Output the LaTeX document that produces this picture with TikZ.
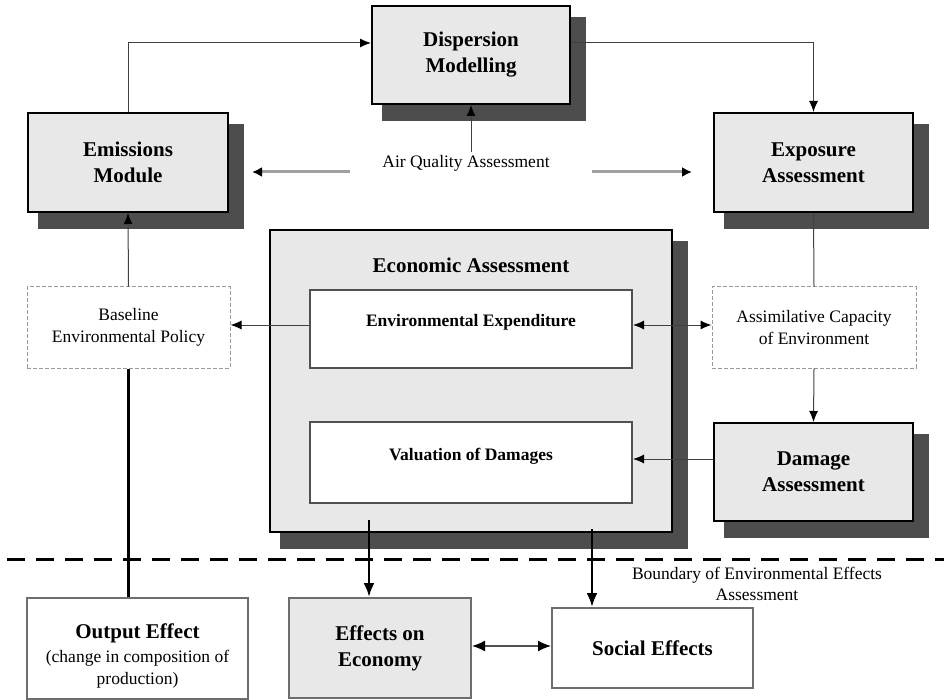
\documentclass[tikz,border=0pt]{standalone}
\usepackage{fontspec}
\setmainfont{Liberation Serif}
\usetikzlibrary{arrows.meta,calc}
\pgfdeclarelayer{background}
\pgfsetlayers{background,main}
\definecolor{boxfill}{HTML}{E8E8E8}
\definecolor{shadowc}{HTML}{4D4D4D}
\definecolor{dashc}{HTML}{9A9A9A}
\definecolor{midgray}{HTML}{6E6E6E}
\definecolor{innerc}{HTML}{505050}
\definecolor{linec}{HTML}{404040}
\definecolor{aqc}{HTML}{A0A0A0}
\begin{document}
\begin{tikzpicture}[x=1pt,y=-1pt,
  bigfont/.style={font=\fontsize{21}{26}\selectfont\bfseries},
  smallfont/.style={font=\fontsize{17.5}{22}\selectfont},
  smallbold/.style={font=\fontsize{17.5}{22}\selectfont\bfseries},
  mainbox/.style={draw=black, line width=2pt, fill=boxfill, align=center, bigfont, inner sep=0pt},
  dashbox/.style={draw=dashc, line width=1pt, dash pattern=on 4pt off 2pt, fill=white, align=center, smallfont, inner sep=0pt},
  innerbox/.style={draw=innerc, line width=2pt, fill=white, inner sep=0pt},
  econbox/.style={draw=black, line width=2.5pt, fill=boxfill, inner sep=0pt},
  lowbox/.style={draw=midgray, line width=2pt, align=center, bigfont, inner sep=0pt},
  thinarrow/.style={draw=linec, line width=1pt, -{Latex[length=11pt,width=9pt,color=black]}},
  thinline/.style={draw=linec, line width=1pt},
  aqarrow/.style={draw=aqc, line width=3pt, -{Latex[length=10pt,width=10pt,color=black]}},
  thickarrow/.style={draw=black, line width=2.5pt, -{Latex[length=14pt,width=11pt]}},
  thickline/.style={draw=black, line width=2.5pt},
  dblarrow/.style={draw=innerc, line width=1.5pt, {Latex[length=13pt,width=11pt,color=black]}-{Latex[length=13pt,width=11pt,color=black]}},
  boundary/.style={draw=black, line width=3pt, dash pattern=on 18pt off 11pt},
  shadowfill/.style={fill=shadowc}
]
\useasboundingbox (0,0) rectangle (944,700);

% top row
\node[mainbox, minimum width=198pt, minimum height=98pt] (disp) at (471,55) {Dispersion\\Modelling};
\node[mainbox, minimum width=200pt, minimum height=99pt] (emis) at (128,162.5) {Emissions\\Module};
\node[mainbox, minimum width=199pt, minimum height=99pt] (expo) at (813.5,162.5) {Exposure\\Assessment};
\node[smallfont] (aq) at (466,163) {Air Quality Assessment};

% economic assessment
\node[econbox, minimum width=402pt, minimum height=302pt] (econ) at (471,381) {};
\node[bigfont] (econT) at (471,265) {Economic Assessment};
\node[innerbox, minimum width=322pt, minimum height=78pt] (envexp) at (471,329) {};
\node[smallbold] (envexpT) at (471,322) {Environmental Expenditure};
\node[innerbox, minimum width=322pt, minimum height=81pt] (valu) at (471,462.5) {};
\node[smallbold] (valuT) at (471,456) {Valuation of Damages};

% side boxes
\node[dashbox, minimum width=203pt, minimum height=81pt] (base) at (128.5,327.5) {Baseline\\Environmental Policy};
\node[dashbox, minimum width=204pt, minimum height=81pt] (assim) at (814,327.5) {Assimilative Capacity\\of Environment};
\node[mainbox, minimum width=199pt, minimum height=98pt] (dmg) at (813.5,472) {Damage\\Assessment};

% bottom row
\node[lowbox, fill=white, minimum width=221pt, minimum height=101pt] (out) at (137.5,648.5) {};
\node[align=center, bigfont] (outT) at (137.5,656)
  {Output Effect\\[-2pt]{\fontsize{17.5}{20}\selectfont\mdseries (change in composition of}\\[-4pt]{\fontsize{17.5}{20}\selectfont\mdseries production)}};
\node[lowbox, fill=boxfill, minimum width=182pt, minimum height=100pt] (eoe) at (380,648) {Effects on\\Economy};
\node[lowbox, fill=white, minimum width=201pt, minimum height=80pt] (soc) at (652.5,648) {Social Effects};
\node[align=center, font=\fontsize{17.5}{21}\selectfont] (bnd) at (757,583.5) {Boundary of Environmental Effects\\Assessment};

% shadows
\begin{pgfonlayer}{background}
  \foreach \n in {disp,emis,expo,econ,dmg}
    \fill[shadowfill] ($(\n.north west)+(11,12)$) rectangle ($(\n.south east)+(15,16)$);
\end{pgfonlayer}

% connectors
\draw[thinarrow] (emis.north) |- ($(disp.west)+(0,-12)$);
\draw[thinarrow] ($(disp.east)+(0,-12)$) -| (expo.north);
\draw[thinarrow] (disp.south |- aq.north) -- (disp.south);
\coordinate (aqL1) at (350,172);
\coordinate (aqL2) at (252,172);
\coordinate (aqR1) at (592,172);
\coordinate (aqR2) at (692,172);
\draw[aqarrow] (aqL1) -- (aqL2);
\draw[aqarrow] (aqR1) -- (aqR2);

\draw[thinarrow] (base.north) -- (emis.south);
\draw[thinarrow] ($(envexp.west)+(0,-4)$) -- ($(envexp.west -| base.east)+(0,-4)$);
\draw[thinarrow, {Latex[length=11pt,width=9pt,color=black]}-{Latex[length=11pt,width=9pt,color=black]}] ($(envexp.east)+(0,-4)$) -- ($(envexp.east -| assim.west)+(0,-4)$);
\draw[thinline] (expo.south) -- (assim.north);
\draw[thinarrow] (assim.south) -- (dmg.north);
\draw[thinarrow] ($(dmg.west)+(0,-13)$) -- ($(dmg.west -| valu.east)+(0,-13)$);

\draw[thickline] (base.south) -- (base.south |- out.north);
\coordinate (ea1) at (369,520);
\coordinate (ea2) at (592,529);
\draw[thickarrow] (ea1) -- (ea1 |- eoe.north);
\draw[thickarrow] (ea2) -- (ea2 |- soc.north);
\draw[dblarrow] ($(eoe.east)+(0,-2)$) -- ($(soc.west)+(0,-2)$);

% boundary
\coordinate (bL) at (7,559);
\coordinate (bR) at (944,559);
\draw[boundary] (bL) -- (bR);
\end{tikzpicture}
\end{document}
